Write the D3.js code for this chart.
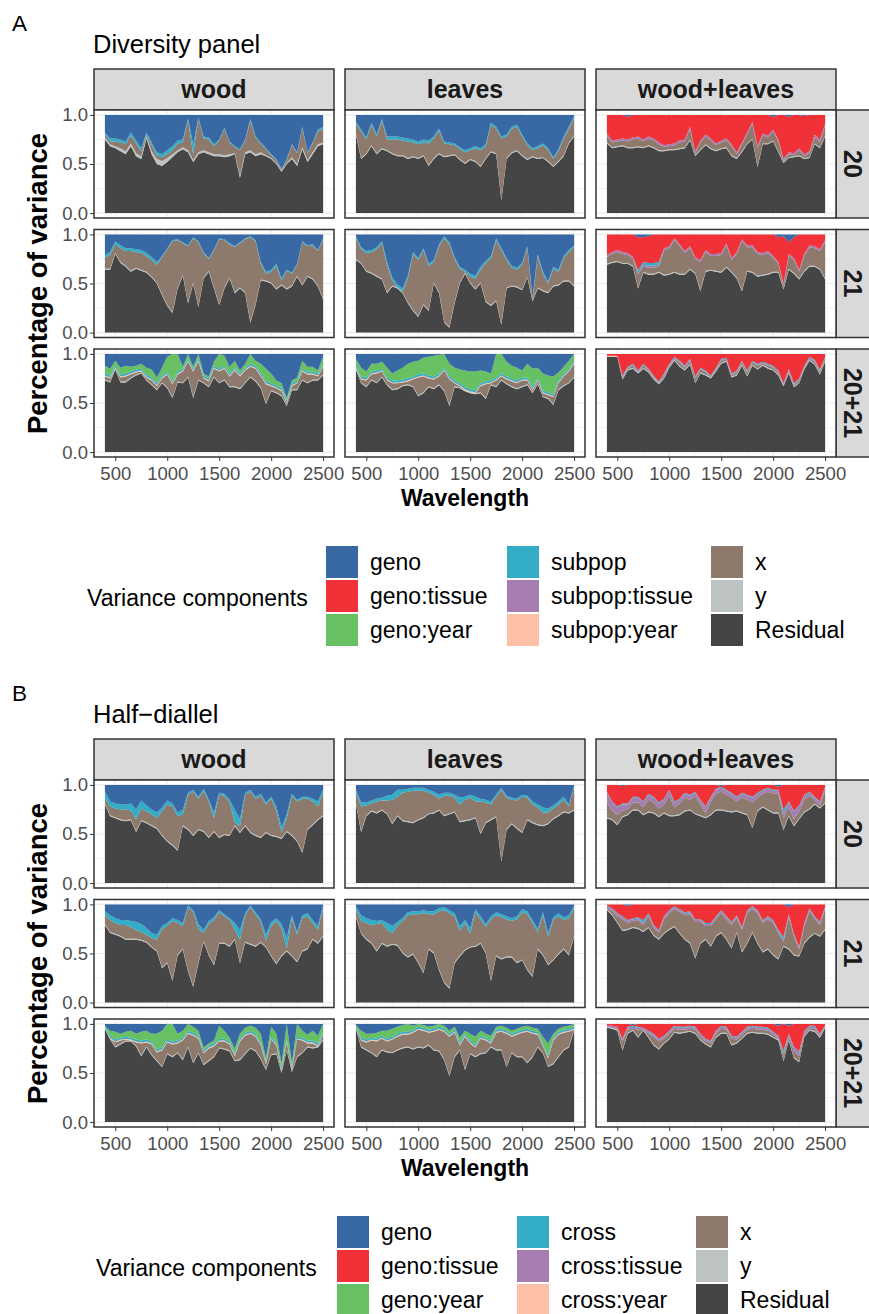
<!DOCTYPE html>
<html><head><meta charset="utf-8">
<script src="https://cdn.jsdelivr.net/npm/d3@7"></script>
<style>
body{margin:0;background:#fff}
svg{display:block}
text{font-family:"Liberation Sans",Arial,Helvetica,sans-serif}
</style>
</head><body>
<svg id="chart" width="869" height="1314"></svg>
<script>
// ---------------- DATA ----------------
const wavelength = [400,450,500,550,600,650,700,750,800,850,900,950,1000,1050,1100,1150,1200,1250,1300,1350,1400,1450,1500,1550,1600,1650,1700,1750,1800,1850,1900,1950,2000,2050,2100,2150,2200,2250,2300,2350,2400,2450,2500];
const tissues = ["wood","leaves","wood+leaves"];
const years = ["20","21","20+21"];
const xTicks = [500,1000,1500,2000,2500];
const yTicks = [0,0.5,1];
const componentKeys = ["geno","gT","gY","sp","spT","spY","x","y","Residual"];
const labelsA = ["geno","geno:tissue","geno:year","subpop","subpop:tissue","subpop:year","x","y","Residual"];
const labelsB = ["geno","geno:tissue","geno:year","cross","cross:tissue","cross:year","x","y","Residual"];

const thin01 = [0.01,0.01,0.01,0.01,0.01,0.01,0.01,0.01,0.01,0.01,0.01,0.01,0.01,0.01,0.01,0.01,0.01,0.01,0.01,0.01,0.01,0.01,0.01,0.01,0.01,0.01,0.01,0.01,0.01,0.01,0.01,0.01,0.01,0.01,0.01,0.01,0.01,0.01,0.01,0.01,0.01,0.01,0.01];
const thin02 = [0.02,0.02,0.02,0.02,0.02,0.02,0.02,0.02,0.02,0.02,0.02,0.02,0.02,0.02,0.02,0.02,0.02,0.02,0.02,0.02,0.02,0.02,0.02,0.02,0.02,0.02,0.02,0.02,0.02,0.02,0.02,0.02,0.02,0.02,0.02,0.02,0.02,0.02,0.02,0.02,0.02,0.02,0.02];

// A: Diversity panel -- wood, 20
const aWood20Res  = [0.75,0.68,0.66,0.63,0.60,0.68,0.58,0.55,0.76,0.60,0.50,0.48,0.52,0.57,0.62,0.65,0.62,0.52,0.60,0.62,0.60,0.58,0.58,0.57,0.58,0.60,0.36,0.60,0.62,0.58,0.60,0.58,0.55,0.50,0.42,0.50,0.55,0.48,0.65,0.52,0.60,0.68,0.70];
const aWood20Y    = [0.02,0.02,0.02,0.03,0.03,0.03,0.03,0.03,0.02,0.03,0.05,0.05,0.04,0.03,0.02,0.02,0.02,0.02,0.02,0.02,0.02,0.02,0.02,0.02,0.02,0.01,0.02,0.02,0.02,0.02,0.02,0.01,0.01,0.01,0.01,0.01,0.02,0.02,0.02,0.02,0.02,0.02,0.02];
const aWood20X    = [0.03,0.03,0.05,0.06,0.07,0.08,0.10,0.05,0.02,0.06,0.04,0.04,0.04,0.04,0.07,0.05,0.31,0.06,0.34,0.12,0.13,0.08,0.14,0.27,0.12,0.06,0.26,0.12,0.30,0.17,0.09,0.06,0.03,0.03,0.01,0.03,0.12,0.11,0.20,0.07,0.09,0.13,0.14];
const aWood20Sp   = [0.02,0.03,0.03,0.03,0.03,0.03,0.03,0.03,0.02,0.03,0.03,0.03,0.04,0.04,0.03,0.03,0.01,0.10,0.01,0.02,0.02,0.02,0.01,0.01,0.01,0.01,0.01,0.01,0.02,0.01,0.01,0.01,0.01,0.01,0.01,0.01,0.01,0.01,0.01,0.01,0.01,0.02,0.02];
const aWood20Geno = [0.18,0.24,0.24,0.25,0.27,0.18,0.26,0.34,0.18,0.28,0.38,0.40,0.36,0.32,0.26,0.25,0.04,0.30,0.03,0.22,0.23,0.30,0.25,0.13,0.27,0.32,0.35,0.25,0.04,0.22,0.28,0.34,0.40,0.45,0.55,0.45,0.30,0.38,0.12,0.38,0.28,0.15,0.12];

// A: leaves, 20
const aLeaf20Res  = [0.80,0.55,0.60,0.68,0.60,0.65,0.63,0.60,0.58,0.58,0.55,0.57,0.55,0.58,0.48,0.55,0.60,0.57,0.58,0.59,0.54,0.50,0.54,0.52,0.47,0.55,0.62,0.60,0.13,0.55,0.61,0.63,0.58,0.54,0.57,0.55,0.56,0.52,0.47,0.52,0.58,0.71,0.78];
const aLeaf20X    = [0.10,0.27,0.14,0.21,0.17,0.28,0.11,0.14,0.16,0.15,0.17,0.14,0.14,0.13,0.22,0.20,0.23,0.13,0.11,0.09,0.10,0.11,0.09,0.13,0.16,0.12,0.27,0.25,0.62,0.22,0.24,0.24,0.19,0.14,0.06,0.10,0.12,0.11,0.07,0.10,0.17,0.14,0.18];
const aLeaf20Sp   = [0.02,0.02,0.02,0.02,0.02,0.02,0.03,0.03,0.03,0.03,0.03,0.03,0.03,0.03,0.03,0.02,0.02,0.02,0.02,0.02,0.02,0.02,0.02,0.02,0.02,0.02,0.02,0.02,0.02,0.02,0.02,0.02,0.02,0.02,0.02,0.02,0.02,0.02,0.02,0.02,0.02,0.02,0.02];
const aLeaf20Geno = [0.07,0.15,0.23,0.08,0.20,0.04,0.22,0.22,0.22,0.23,0.24,0.25,0.27,0.25,0.26,0.22,0.14,0.27,0.28,0.29,0.33,0.36,0.34,0.32,0.34,0.30,0.08,0.12,0.22,0.20,0.12,0.10,0.20,0.29,0.34,0.32,0.29,0.34,0.43,0.35,0.22,0.12,0.01];

// A: wood+leaves, 20
const aWL20Res  = [0.71,0.66,0.67,0.68,0.66,0.66,0.67,0.66,0.68,0.66,0.63,0.63,0.64,0.64,0.65,0.66,0.74,0.58,0.64,0.69,0.65,0.63,0.65,0.66,0.58,0.55,0.62,0.70,0.75,0.47,0.70,0.70,0.73,0.62,0.51,0.56,0.57,0.58,0.55,0.56,0.70,0.66,0.78];
const aWL20X    = [0.07,0.05,0.05,0.05,0.06,0.08,0.08,0.06,0.07,0.07,0.06,0.03,0.03,0.04,0.06,0.06,0.11,0.02,0.07,0.08,0.08,0.05,0.06,0.07,0.09,0.04,0.07,0.09,0.15,0.18,0.08,0.06,0.09,0.10,0.01,0.03,0.01,0.05,0.02,0.04,0.06,0.05,0.10];
const aWL20SpT  = [0.02,0.02,0.02,0.02,0.02,0.02,0.02,0.02,0.02,0.02,0.02,0.02,0.02,0.02,0.02,0.02,0.02,0.02,0.02,0.02,0.02,0.02,0.02,0.02,0.02,0.02,0.02,0.02,0.02,0.02,0.02,0.02,0.02,0.02,0.01,0.02,0.02,0.02,0.02,0.02,0.03,0.03,0.02];
const aWL20Sp   = [0,0,0,0,0,0,0,0,0,0,0,0,0,0,0,0,0,0,0,0,0,0,0,0,0,0,0,0,0,0,0,0,0,0,0.01,0,0,0,0,0,0,0,0];
const aWL20GT   = [0.19,0.26,0.25,0.24,0.23,0.23,0.22,0.25,0.22,0.24,0.28,0.31,0.30,0.29,0.26,0.25,0.12,0.37,0.26,0.20,0.24,0.29,0.26,0.24,0.30,0.38,0.28,0.18,0.07,0.32,0.19,0.21,0.13,0.25,0.45,0.36,0.39,0.34,0.39,0.37,0.20,0.25,0.09];
const aWL20Geno = [0,0,0,0,0.02,0,0,0,0,0,0,0,0,0,0,0,0,0,0,0,0,0,0,0,0,0,0,0,0,0,0,0,0.02,0,0,0.02,0,0,0.01,0,0,0,0];

// A: wood, 21
const aWood21Res  = [0.64,0.64,0.80,0.71,0.67,0.62,0.65,0.63,0.61,0.56,0.50,0.38,0.27,0.20,0.45,0.58,0.30,0.50,0.26,0.55,0.62,0.45,0.28,0.45,0.55,0.40,0.45,0.40,0.10,0.28,0.53,0.52,0.50,0.44,0.48,0.44,0.47,0.57,0.48,0.57,0.54,0.47,0.34];
const aWood21X    = [0.11,0.14,0.09,0.14,0.15,0.20,0.16,0.17,0.16,0.17,0.18,0.38,0.57,0.72,0.48,0.32,0.57,0.45,0.65,0.25,0.12,0.38,0.66,0.48,0.34,0.46,0.45,0.54,0.86,0.64,0.16,0.07,0.11,0.23,0.04,0.18,0.12,0.11,0.43,0.30,0.34,0.35,0.60];
const aWood21Sp   = [0.03,0.03,0.03,0.03,0.03,0.03,0.03,0.03,0.03,0.03,0.03,0.01,0.01,0.01,0.01,0.01,0.01,0.01,0.01,0.01,0.01,0.01,0.01,0.01,0.01,0.01,0.01,0.01,0.01,0.01,0.02,0.02,0.02,0.02,0.02,0.01,0.01,0.01,0.01,0.01,0.01,0.01,0.01];
const aWood21Geno = [0.21,0.18,0.07,0.11,0.14,0.14,0.15,0.16,0.19,0.23,0.28,0.22,0.14,0.06,0.05,0.08,0.11,0.03,0.07,0.18,0.24,0.15,0.04,0.05,0.09,0.12,0.08,0.04,0.02,0.06,0.28,0.38,0.36,0.30,0.45,0.36,0.39,0.30,0.07,0.11,0.10,0.16,0.04];

// A: leaves, 21
const aLeaf21Res  = [0.74,0.70,0.62,0.60,0.57,0.54,0.40,0.47,0.45,0.40,0.30,0.22,0.16,0.28,0.22,0.50,0.40,0.10,0.05,0.30,0.50,0.60,0.50,0.44,0.50,0.31,0.27,0.32,0.08,0.45,0.47,0.46,0.43,0.56,0.32,0.45,0.42,0.40,0.47,0.48,0.52,0.52,0.47];
const aLeaf21X    = [0.21,0.14,0.18,0.21,0.27,0.36,0.28,0.05,0.00,0.01,0.24,0.57,0.57,0.55,0.45,0.21,0.47,0.85,0.84,0.44,0.14,0.01,0.06,0.10,0.13,0.39,0.48,0.61,0.75,0.28,0.18,0.17,0.25,0.29,0.01,0.32,0.17,0.09,0.17,0.13,0.23,0.29,0.39];
const aLeaf21Sp   = [0.02,0.02,0.02,0.02,0.02,0.02,0.03,0.03,0.03,0.03,0.03,0.02,0.02,0.02,0.02,0.02,0.02,0.02,0.02,0.02,0.02,0.02,0.03,0.03,0.03,0.02,0.02,0.02,0.02,0.02,0.02,0.02,0.02,0.02,0.02,0.02,0.02,0.02,0.02,0.02,0.02,0.02,0.02];
const aLeaf21Geno = [0.02,0.13,0.17,0.16,0.13,0.07,0.28,0.44,0.51,0.55,0.42,0.18,0.24,0.14,0.30,0.26,0.10,0.02,0.08,0.23,0.33,0.36,0.40,0.42,0.33,0.27,0.22,0.04,0.14,0.24,0.32,0.34,0.29,0.12,0.64,0.20,0.38,0.48,0.33,0.36,0.22,0.16,0.11];

// A: wood+leaves, 21
const aWL21Res  = [0.69,0.71,0.72,0.70,0.70,0.67,0.45,0.61,0.59,0.59,0.61,0.58,0.59,0.61,0.59,0.59,0.64,0.60,0.42,0.62,0.63,0.62,0.61,0.66,0.61,0.55,0.42,0.62,0.61,0.57,0.58,0.59,0.61,0.61,0.44,0.64,0.60,0.54,0.62,0.67,0.67,0.64,0.54];
const aWL21X    = [0.07,0.08,0.09,0.09,0.08,0.07,0.13,0.05,0.06,0.06,0.05,0.25,0.26,0.32,0.28,0.21,0.21,0.14,0.29,0.19,0.14,0.15,0.17,0.22,0.12,0.24,0.50,0.24,0.25,0.22,0.20,0.21,0.14,0.08,0.03,0.13,0.13,0.07,0.15,0.19,0.18,0.18,0.37];
const aWL21Sp   = [0,0,0,0,0,0,0.03,0.03,0.03,0.03,0.03,0,0,0,0,0,0,0,0,0,0,0,0,0,0,0,0,0,0,0,0,0,0,0,0,0,0,0,0,0,0,0,0];
const aWL21GT   = [0.21,0.18,0.16,0.18,0.19,0.23,0.33,0.25,0.27,0.29,0.28,0.14,0.12,0.04,0.10,0.17,0.12,0.23,0.26,0.16,0.20,0.20,0.19,0.09,0.24,0.18,0.05,0.11,0.11,0.18,0.19,0.17,0.22,0.25,0.48,0.12,0.21,0.36,0.20,0.11,0.12,0.15,0.06];
const aWL21Geno = [0,0,0,0,0,0,0.03,0.03,0.02,0,0,0,0,0,0,0,0,0,0,0,0,0,0,0,0,0,0,0,0,0,0,0,0,0.03,0.02,0.08,0.03,0,0,0,0,0,0];

// A: wood, 20+21
const aWood2021Res  = [0.73,0.71,0.84,0.71,0.71,0.75,0.78,0.80,0.73,0.68,0.63,0.70,0.65,0.55,0.71,0.70,0.76,0.55,0.73,0.70,0.66,0.76,0.70,0.73,0.66,0.66,0.64,0.70,0.76,0.72,0.65,0.49,0.62,0.60,0.57,0.47,0.63,0.63,0.73,0.70,0.73,0.73,0.78];
const aWood2021X    = [0.03,0.03,0.00,0.04,0.05,0.03,0.02,0.01,0.02,0.04,0.03,0.04,0.13,0.13,0.07,0.11,0.15,0.26,0.18,0.04,0.05,0.08,0.11,0.11,0.10,0.16,0.12,0.12,0.10,0.12,0.11,0.19,0.04,0.04,0.04,0.02,0.03,0.06,0.08,0.08,0.05,0.03,0.08];
const aWood2021GY   = [0.08,0.07,0.05,0.07,0.08,0.05,0.04,0.05,0.07,0.08,0.06,0.08,0.15,0.28,0.18,0.02,0.05,0.02,0.05,0.02,0.02,0.04,0.15,0.10,0.07,0.07,0.03,0.04,0.10,0.05,0.10,0.13,0.10,0.05,0.05,0.02,0.03,0.03,0.08,0.05,0.05,0.03,0.07];
const aWood2021Geno = [0.12,0.15,0.07,0.14,0.12,0.13,0.12,0.10,0.14,0.16,0.24,0.14,0.03,0.00,0.00,0.13,0.00,0.13,0.00,0.20,0.23,0.08,0.00,0.02,0.13,0.07,0.17,0.10,0.00,0.07,0.10,0.15,0.20,0.27,0.30,0.45,0.27,0.24,0.07,0.13,0.13,0.17,0.03];

// A: leaves, 20+21
const aLeaf2021Res  = [0.84,0.70,0.66,0.73,0.70,0.76,0.68,0.63,0.64,0.67,0.68,0.66,0.57,0.60,0.66,0.64,0.68,0.62,0.47,0.66,0.65,0.62,0.60,0.59,0.60,0.54,0.68,0.66,0.73,0.69,0.66,0.64,0.66,0.68,0.60,0.69,0.56,0.54,0.48,0.63,0.67,0.70,0.76];
const aLeaf2021X    = [0.00,0.03,0.06,0.05,0.09,0.05,0.04,0.06,0.05,0.03,0.03,0.07,0.18,0.16,0.08,0.09,0.08,0.20,0.26,0.03,0.01,0.00,0.00,0.00,0.06,0.14,0.01,0.06,0.03,0.04,0.05,0.05,0.06,0.04,0.02,0.03,0.03,0.03,0.07,0.06,0.09,0.11,0.13];
const aLeaf2021GY   = [0.07,0.09,0.06,0.08,0.07,0.07,0.10,0.07,0.10,0.12,0.15,0.15,0.14,0.16,0.19,0.21,0.19,0.14,0.13,0.13,0.14,0.17,0.18,0.19,0.13,0.10,0.07,0.24,0.20,0.15,0.13,0.13,0.07,0.14,0.19,0.10,0.17,0.17,0.18,0.08,0.07,0.08,0.07];
const aLeaf2021Geno = [0.05,0.14,0.18,0.10,0.10,0.08,0.14,0.20,0.17,0.14,0.10,0.08,0.07,0.04,0.03,0.02,0.01,0.00,0.10,0.14,0.16,0.17,0.18,0.18,0.17,0.18,0.20,0.00,0.00,0.08,0.12,0.14,0.17,0.10,0.15,0.14,0.20,0.22,0.23,0.19,0.13,0.07,0.00];

// A: wood+leaves, 20+21
const aWL2021Res  = [0.97,0.97,0.97,0.74,0.83,0.85,0.80,0.85,0.81,0.74,0.69,0.75,0.86,0.93,0.87,0.83,0.89,0.70,0.80,0.78,0.75,0.82,0.90,0.92,0.76,0.78,0.88,0.77,0.88,0.84,0.88,0.85,0.83,0.78,0.67,0.80,0.66,0.70,0.84,0.93,0.89,0.79,0.92];
const aWL2021Y    = [0,0,0,0.01,0.01,0.01,0.01,0.01,0.01,0.01,0.01,0.01,0.01,0.01,0.01,0.01,0.01,0.01,0.01,0.01,0.01,0.01,0.01,0.01,0.01,0.01,0.01,0.01,0.01,0.01,0.01,0.01,0.01,0.01,0.01,0.01,0.01,0.01,0.01,0.01,0.01,0.01,0.01];
const aWL2021X    = [0.00,0.00,0.00,0.01,0.01,0.02,0.00,0.02,0.01,0.01,0.00,0.02,0.01,0.01,0.03,0.02,0.03,0.04,0.03,0.02,0.00,0.01,0.02,0.01,0.01,0.02,0.02,0.03,0.02,0.03,0.01,0.02,0.02,0.02,0.00,0.02,0.01,0.02,0.01,0.01,0.02,0.02,0.02];
const aWL2021SpY  = [0.01,0.01,0.01,0,0,0,0,0,0,0,0,0,0,0,0,0,0,0,0,0,0,0,0,0,0,0,0,0,0,0,0,0,0,0,0,0,0,0,0,0,0,0,0];
const aWL2021SpT  = aWL2021Y;
const aWL2021Sp   = aWL2021Y;
const aWL2021GT   = [0.02,0.02,0.02,0.22,0.13,0.10,0.17,0.10,0.15,0.22,0.28,0.20,0.10,0.03,0.07,0.12,0.05,0.23,0.14,0.17,0.22,0.14,0.05,0.04,0.20,0.17,0.07,0.17,0.07,0.10,0.08,0.10,0.12,0.17,0.30,0.15,0.30,0.25,0.12,0.03,0.06,0.16,0.03];

// B: Half-diallel -- wood, 20
const bWood20Res  = [0.80,0.68,0.66,0.64,0.63,0.64,0.52,0.63,0.61,0.58,0.55,0.48,0.42,0.38,0.33,0.58,0.54,0.48,0.54,0.52,0.46,0.52,0.46,0.49,0.48,0.58,0.51,0.58,0.51,0.48,0.46,0.51,0.48,0.47,0.45,0.52,0.48,0.42,0.31,0.54,0.59,0.64,0.68];
const bWood20X    = [0.05,0.09,0.09,0.10,0.11,0.09,0.12,0.12,0.11,0.11,0.10,0.24,0.37,0.39,0.34,0.11,0.35,0.44,0.31,0.41,0.36,0.13,0.43,0.39,0.33,0.03,0.06,0.31,0.41,0.37,0.42,0.28,0.37,0.26,0.06,0.13,0.40,0.40,0.54,0.31,0.23,0.13,0.23];
const bWood20Cr   = [0.07,0.05,0.05,0.05,0.05,0.07,0.10,0.08,0.06,0.05,0.06,0.04,0.04,0.03,0.04,0.05,0.02,0.02,0.02,0.02,0.02,0.06,0.02,0.02,0.03,0.13,0.07,0.02,0.02,0.02,0.02,0.02,0.02,0.04,0.05,0.04,0.02,0.02,0.02,0.02,0.03,0.05,0.03];
const bWood20Geno = [0.07,0.17,0.19,0.20,0.20,0.19,0.25,0.16,0.21,0.25,0.28,0.23,0.16,0.19,0.28,0.25,0.08,0.05,0.12,0.04,0.15,0.28,0.08,0.09,0.15,0.25,0.35,0.08,0.05,0.12,0.09,0.18,0.12,0.22,0.43,0.30,0.09,0.15,0.12,0.12,0.14,0.17,0.05];

// B: leaves, 20
const bLeaf20Res  = [0.81,0.52,0.68,0.73,0.71,0.74,0.70,0.60,0.68,0.63,0.62,0.61,0.64,0.66,0.70,0.71,0.74,0.68,0.70,0.72,0.62,0.63,0.64,0.66,0.50,0.61,0.64,0.67,0.22,0.54,0.60,0.55,0.51,0.64,0.61,0.59,0.58,0.60,0.65,0.68,0.72,0.71,0.74];
const bLeaf20X    = [0.10,0.25,0.10,0.07,0.11,0.09,0.13,0.24,0.19,0.28,0.30,0.32,0.29,0.27,0.21,0.18,0.11,0.20,0.18,0.14,0.17,0.21,0.22,0.16,0.32,0.20,0.15,0.20,0.72,0.32,0.24,0.28,0.36,0.22,0.18,0.17,0.13,0.11,0.10,0.11,0.12,0.06,0.23];
const bLeaf20Cr   = [0.03,0.04,0.03,0.03,0.03,0.03,0.05,0.05,0.07,0.03,0.03,0.03,0.03,0.03,0.03,0.03,0.04,0.03,0.03,0.03,0.07,0.03,0.03,0.05,0.03,0.03,0.03,0.02,0.02,0.02,0.02,0.02,0.02,0.02,0.03,0.03,0.05,0.04,0.03,0.03,0.03,0.02,0.02];
const bLeaf20Geno = [0.05,0.18,0.18,0.16,0.14,0.13,0.11,0.10,0.05,0.05,0.04,0.03,0.03,0.03,0.05,0.07,0.10,0.08,0.08,0.10,0.13,0.12,0.10,0.12,0.14,0.15,0.17,0.10,0.03,0.11,0.13,0.14,0.10,0.11,0.17,0.20,0.23,0.24,0.21,0.17,0.12,0.20,0.00];

// B: wood+leaves, 20
const bWL20Res  = [0.66,0.64,0.59,0.67,0.69,0.74,0.74,0.69,0.72,0.71,0.67,0.71,0.68,0.68,0.69,0.73,0.74,0.70,0.68,0.66,0.69,0.74,0.74,0.73,0.72,0.73,0.71,0.69,0.56,0.73,0.77,0.74,0.71,0.71,0.54,0.68,0.58,0.65,0.72,0.75,0.80,0.76,0.81];
const bWL20X    = [0.15,0.09,0.09,0.06,0.05,0.07,0.07,0.07,0.12,0.10,0.08,0.08,0.20,0.08,0.11,0.13,0.10,0.17,0.11,0.04,0.13,0.16,0.18,0.16,0.14,0.09,0.15,0.15,0.25,0.13,0.13,0.18,0.19,0.19,0.11,0.08,0.06,0.07,0.12,0.13,0.03,0.02,0.12];
const bWL20CT   = [0.10,0.08,0.08,0.06,0.05,0.05,0.05,0.05,0.05,0.05,0.05,0.05,0.05,0.05,0.04,0.04,0.04,0.04,0.04,0.06,0.04,0.04,0.04,0.04,0.04,0.04,0.04,0.04,0.05,0.04,0.03,0.03,0.03,0.03,0.05,0.05,0.08,0.05,0.04,0.03,0.03,0.03,0.03];
const bWL20Cr   = [0.01,0.01,0.01,0.01,0.01,0.01,0.01,0.01,0.01,0.01,0.01,0.01,0.01,0.01,0.01,0.01,0.01,0.01,0.01,0.01,0.01,0.01,0.01,0.01,0.01,0.01,0.01,0.01,0.01,0.01,0.01,0.01,0.01,0.01,0.04,0.01,0.01,0.01,0.01,0.01,0.01,0.01,0.01];
const bWL20GT   = [0.07,0.17,0.22,0.18,0.19,0.12,0.12,0.17,0.09,0.12,0.18,0.14,0.05,0.17,0.14,0.08,0.10,0.07,0.15,0.22,0.12,0.04,0.01,0.05,0.08,0.12,0.08,0.10,0.12,0.08,0.05,0.03,0.05,0.03,0.25,0.17,0.26,0.21,0.10,0.07,0.12,0.17,0.02];
const bWL20Geno = [0,0,0,0.01,0,0,0,0,0,0,0,0,0,0,0,0,0,0,0,0,0,0,0.01,0,0,0,0,0,0,0,0,0,0,0.02,0,0,0,0,0,0,0,0,0];

// B: wood, 21
const bWood21Res  = [0.79,0.71,0.69,0.67,0.64,0.64,0.64,0.63,0.61,0.56,0.52,0.35,0.40,0.22,0.48,0.54,0.32,0.16,0.40,0.62,0.48,0.38,0.60,0.60,0.57,0.64,0.40,0.61,0.59,0.57,0.61,0.56,0.47,0.39,0.47,0.52,0.47,0.41,0.52,0.54,0.64,0.60,0.67];
const bWood21X    = [0.09,0.12,0.11,0.11,0.14,0.12,0.09,0.08,0.07,0.09,0.11,0.39,0.37,0.60,0.32,0.23,0.64,0.75,0.34,0.08,0.31,0.45,0.31,0.27,0.26,0.09,0.23,0.27,0.37,0.32,0.20,0.06,0.30,0.43,0.28,0.02,0.38,0.27,0.33,0.33,0.16,0.13,0.28];
const bWood21Cr   = [0.04,0.05,0.05,0.05,0.05,0.06,0.08,0.08,0.07,0.05,0.05,0.03,0.03,0.03,0.03,0.03,0.02,0.02,0.05,0.03,0.03,0.03,0.02,0.02,0.02,0.07,0.10,0.02,0.02,0.02,0.03,0.06,0.04,0.03,0.04,0.11,0.03,0.03,0.03,0.03,0.03,0.04,0.03];
const bWood21Geno = [0.07,0.11,0.14,0.16,0.16,0.17,0.18,0.20,0.24,0.29,0.31,0.22,0.19,0.14,0.16,0.19,0.01,0.06,0.20,0.26,0.17,0.13,0.06,0.10,0.14,0.19,0.26,0.09,0.01,0.08,0.15,0.31,0.18,0.14,0.20,0.34,0.11,0.28,0.11,0.09,0.16,0.22,0.01];

// B: leaves, 21
const bLeaf21Res  = [0.87,0.70,0.64,0.60,0.52,0.60,0.57,0.59,0.58,0.50,0.46,0.49,0.40,0.30,0.54,0.50,0.33,0.20,0.14,0.40,0.47,0.53,0.56,0.57,0.60,0.50,0.22,0.47,0.44,0.46,0.46,0.40,0.43,0.33,0.26,0.54,0.48,0.38,0.43,0.49,0.54,0.48,0.67];
const bLeaf21X    = [0.07,0.12,0.16,0.18,0.27,0.20,0.16,0.11,0.19,0.32,0.42,0.40,0.49,0.60,0.35,0.39,0.59,0.73,0.76,0.47,0.25,0.27,0.13,0.34,0.24,0.26,0.62,0.41,0.42,0.38,0.36,0.44,0.48,0.56,0.54,0.17,0.40,0.28,0.40,0.38,0.29,0.37,0.28];
const bLeaf21Cr   = [0.03,0.06,0.05,0.05,0.03,0.03,0.07,0.07,0.04,0.03,0.03,0.03,0.03,0.03,0.03,0.03,0.03,0.03,0.03,0.03,0.05,0.03,0.06,0.03,0.03,0.03,0.03,0.03,0.03,0.03,0.03,0.03,0.03,0.03,0.03,0.03,0.03,0.04,0.03,0.03,0.03,0.03,0.03];
const bLeaf21Geno = [0.02,0.11,0.14,0.16,0.17,0.16,0.19,0.22,0.18,0.14,0.08,0.07,0.07,0.06,0.07,0.07,0.04,0.03,0.06,0.09,0.22,0.16,0.24,0.05,0.12,0.20,0.12,0.08,0.10,0.12,0.14,0.12,0.05,0.07,0.16,0.25,0.08,0.29,0.13,0.09,0.13,0.11,0.01];

// B: wood+leaves, 21
const bWL21Res  = [0.94,0.89,0.81,0.73,0.74,0.76,0.75,0.72,0.76,0.68,0.64,0.70,0.74,0.77,0.70,0.64,0.60,0.45,0.60,0.64,0.57,0.67,0.71,0.64,0.55,0.71,0.51,0.60,0.71,0.60,0.51,0.54,0.48,0.44,0.57,0.54,0.48,0.47,0.60,0.66,0.70,0.67,0.74];
const bWL21X    = [0.01,0.03,0.06,0.11,0.06,0.06,0.08,0.06,0.11,0.07,0.06,0.14,0.16,0.17,0.21,0.24,0.29,0.36,0.21,0.13,0.20,0.17,0.19,0.20,0.23,0.14,0.22,0.30,0.23,0.30,0.29,0.30,0.32,0.26,0.04,0.32,0.18,0.06,0.17,0.26,0.14,0.11,0.20];
const bWL21Cr   = [0.01,0.01,0.01,0.01,0.01,0.01,0.01,0.03,0.01,0.01,0.01,0.01,0.01,0.01,0.01,0.01,0.01,0.01,0.01,0.01,0.01,0.01,0.01,0.01,0.01,0.01,0.01,0.01,0.01,0.01,0.01,0.01,0.01,0.01,0.03,0.01,0.01,0.01,0.01,0.01,0.01,0.01,0.01];
const bWL21GT   = [0.01,0.04,0.09,0.12,0.14,0.14,0.13,0.16,0.09,0.21,0.26,0.12,0.06,0.02,0.05,0.08,0.07,0.15,0.15,0.19,0.19,0.12,0.06,0.12,0.18,0.11,0.23,0.06,0.02,0.06,0.16,0.12,0.16,0.26,0.33,0.07,0.30,0.43,0.19,0.04,0.12,0.18,0.02];
const bWL21Geno = [0,0,0,0,0.02,0,0,0,0,0,0,0,0,0,0,0,0,0,0,0,0,0,0,0,0,0,0,0,0,0,0,0,0,0,0,0.03,0,0,0,0,0,0,0];

// B: wood, 20+21
const bWood2021Res  = [0.95,0.84,0.76,0.79,0.82,0.82,0.77,0.67,0.76,0.68,0.62,0.56,0.69,0.66,0.70,0.63,0.76,0.60,0.70,0.58,0.62,0.66,0.75,0.74,0.72,0.62,0.63,0.69,0.75,0.72,0.64,0.53,0.68,0.69,0.50,0.73,0.51,0.66,0.70,0.76,0.75,0.76,0.83];
const bWood2021X    = [0.00,0.00,0.04,0.03,0.01,0.00,0.03,0.12,0.04,0.10,0.08,0.16,0.11,0.12,0.09,0.19,0.13,0.27,0.14,0.11,0.12,0.10,0.06,0.07,0.06,0.04,0.18,0.18,0.14,0.14,0.13,0.05,0.15,0.08,0.01,0.07,0.01,0.17,0.12,0.03,0.04,0.00,0.05];
const bWood2021CY   = [0,0.01,0.01,0.01,0.01,0.01,0.01,0.01,0.01,0.01,0.01,0.01,0.01,0.01,0.01,0.01,0.01,0.01,0.01,0.01,0.01,0.01,0.01,0.01,0.01,0.01,0.01,0.01,0.01,0.01,0.01,0.01,0.01,0.01,0.01,0.01,0.01,0.01,0.01,0.01,0.01,0.01,0.01];
const bWood2021Cr   = [0.01,0.02,0.02,0.02,0.02,0.02,0.02,0.02,0.02,0.02,0.02,0.02,0.02,0.02,0.02,0.02,0.02,0.02,0.02,0.02,0.02,0.02,0.02,0.02,0.02,0.02,0.02,0.02,0.02,0.02,0.02,0.02,0.02,0.02,0.02,0.02,0.02,0.02,0.02,0.02,0.02,0.02,0.02];
const bWood2021GY   = [0.01,0.05,0.08,0.04,0.05,0.07,0.06,0.09,0.09,0.08,0.16,0.17,0.16,0.18,0.07,0.07,0.07,0.06,0.05,0.03,0.02,0.03,0.13,0.08,0.04,0.05,0.05,0.05,0.05,0.06,0.09,0.03,0.10,0.09,0.05,0.16,0.04,0.13,0.07,0.06,0.10,0.08,0.08];
const bWood2021Geno = [0.02,0.07,0.08,0.10,0.08,0.07,0.10,0.08,0.07,0.10,0.10,0.07,0.00,0.00,0.10,0.07,0.00,0.03,0.07,0.24,0.20,0.17,0.02,0.07,0.14,0.25,0.10,0.04,0.02,0.04,0.10,0.35,0.03,0.10,0.40,0.00,0.40,0.00,0.07,0.11,0.07,0.12,0.00];

// B: leaves, 20+21
const bLeaf2021Res  = [0.95,0.76,0.73,0.70,0.66,0.73,0.71,0.70,0.73,0.75,0.76,0.74,0.76,0.75,0.78,0.73,0.72,0.63,0.47,0.66,0.73,0.53,0.69,0.66,0.69,0.70,0.76,0.73,0.73,0.56,0.70,0.66,0.66,0.60,0.66,0.76,0.70,0.56,0.59,0.66,0.73,0.76,0.93];
const bLeaf2021X    = [0.00,0.06,0.07,0.12,0.15,0.11,0.10,0.13,0.13,0.13,0.12,0.16,0.17,0.17,0.12,0.18,0.21,0.28,0.39,0.24,0.04,0.33,0.10,0.09,0.15,0.12,0.03,0.17,0.18,0.33,0.16,0.22,0.24,0.31,0.23,0.12,0.06,0.08,0.23,0.22,0.17,0.15,0.00];
const bLeaf2021GY   = [0.02,0.07,0.06,0.04,0.06,0.05,0.08,0.08,0.07,0.07,0.08,0.04,0.03,0.03,0.03,0.03,0.03,0.03,0.03,0.03,0.05,0.03,0.07,0.08,0.05,0.04,0.05,0.03,0.03,0.03,0.03,0.03,0.03,0.03,0.03,0.03,0.07,0.12,0.04,0.03,0.03,0.03,0.03];
const bLeaf2021Geno = [0.01,0.07,0.10,0.10,0.09,0.07,0.07,0.05,0.03,0.01,0.00,0.02,0.00,0.01,0.03,0.02,0.00,0.02,0.07,0.03,0.14,0.07,0.10,0.13,0.07,0.10,0.12,0.03,0.02,0.04,0.07,0.05,0.03,0.02,0.04,0.05,0.13,0.20,0.10,0.05,0.03,0.02,0.00];

// B: wood+leaves, 20+21
const bWL2021Res  = [0.96,0.95,0.93,0.73,0.90,0.93,0.86,0.93,0.86,0.78,0.74,0.80,0.84,0.91,0.90,0.91,0.92,0.90,0.83,0.79,0.76,0.86,0.90,0.90,0.78,0.80,0.85,0.90,0.91,0.90,0.90,0.89,0.86,0.83,0.62,0.83,0.65,0.61,0.87,0.93,0.92,0.86,0.96];
const bWL2021X    = [0.00,0.00,0.01,0.08,0.03,0.01,0.07,0.00,0.03,0.08,0.07,0.04,0.05,0.03,0.03,0.02,0.02,0.03,0.03,0.02,0.03,0.03,0.04,0.03,0.06,0.03,0.03,0.03,0.03,0.03,0.03,0.03,0.02,0.01,0.05,0.03,0.06,0.05,0.02,0.01,0.02,0.00,0.00];
const bWL2021CT   = [0.02,0.02,0.02,0.02,0.02,0.02,0.02,0.02,0.02,0.02,0.02,0.02,0.02,0.02,0.02,0.02,0.02,0.02,0.02,0.02,0.02,0.02,0.02,0.02,0.02,0.02,0.02,0.02,0.02,0.02,0.02,0.02,0.02,0.02,0.02,0.02,0.04,0.04,0.02,0.02,0.02,0.02,0.02];
const bWL2021Cr   = [0,0,0,0.01,0.01,0.01,0.01,0,0.01,0.01,0.01,0.01,0.01,0.01,0.01,0.01,0.01,0.01,0.01,0.01,0.01,0.01,0.01,0.01,0.01,0.01,0.01,0.01,0.01,0.01,0.01,0.01,0.01,0.01,0.03,0.01,0.01,0.01,0.01,0.01,0.01,0.01,0];
const bWL2021GT   = [0.01,0.02,0.03,0.15,0.03,0.01,0.03,0.04,0.07,0.10,0.15,0.12,0.07,0.02,0.03,0.03,0.02,0.03,0.10,0.15,0.17,0.07,0.02,0.03,0.12,0.13,0.08,0.03,0.02,0.03,0.03,0.04,0.08,0.10,0.27,0.08,0.23,0.28,0.07,0.02,0.02,0.10,0.01];
const bWL2021Geno = [0,0,0,0,0,0.01,0,0,0,0,0,0,0,0,0,0,0,0,0,0,0,0,0,0,0,0,0,0,0,0,0,0,0,0.02,0,0.02,0,0,0,0,0,0,0];

// ---------------- PANEL TABLE (built from the arrays) ----------------
const panelsA = [
  {col:0,row:0,s:{Residual:aWood20Res,y:aWood20Y,x:aWood20X,sp:aWood20Sp,geno:aWood20Geno}},
  {col:1,row:0,s:{Residual:aLeaf20Res,y:thin01,x:aLeaf20X,sp:aLeaf20Sp,geno:aLeaf20Geno}},
  {col:2,row:0,s:{Residual:aWL20Res,y:thin01,x:aWL20X,spT:aWL20SpT,sp:aWL20Sp,gT:aWL20GT,geno:aWL20Geno}},
  {col:0,row:1,s:{Residual:aWood21Res,y:thin01,x:aWood21X,sp:aWood21Sp,geno:aWood21Geno}},
  {col:1,row:1,s:{Residual:aLeaf21Res,y:thin01,x:aLeaf21X,sp:aLeaf21Sp,geno:aLeaf21Geno}},
  {col:2,row:1,s:{Residual:aWL21Res,y:thin01,x:aWL21X,spT:thin02,sp:aWL21Sp,gT:aWL21GT,geno:aWL21Geno}},
  {col:0,row:2,s:{Residual:aWood2021Res,y:thin01,x:aWood2021X,spY:thin01,sp:thin02,gY:aWood2021GY,geno:aWood2021Geno}},
  {col:1,row:2,s:{Residual:aLeaf2021Res,y:thin01,x:aLeaf2021X,spY:thin01,sp:thin02,gY:aLeaf2021GY,geno:aLeaf2021Geno}},
  {col:2,row:2,s:{Residual:aWL2021Res,y:aWL2021Y,x:aWL2021X,spY:aWL2021SpY,spT:aWL2021SpT,sp:aWL2021Sp,gT:aWL2021GT}}
];
const panelsB = [
  {col:0,row:0,s:{Residual:bWood20Res,y:thin01,x:bWood20X,sp:bWood20Cr,geno:bWood20Geno}},
  {col:1,row:0,s:{Residual:bLeaf20Res,y:thin01,x:bLeaf20X,sp:bLeaf20Cr,geno:bLeaf20Geno}},
  {col:2,row:0,s:{Residual:bWL20Res,y:thin01,x:bWL20X,spT:bWL20CT,sp:bWL20Cr,gT:bWL20GT,geno:bWL20Geno}},
  {col:0,row:1,s:{Residual:bWood21Res,y:thin01,x:bWood21X,sp:bWood21Cr,geno:bWood21Geno}},
  {col:1,row:1,s:{Residual:bLeaf21Res,y:thin01,x:bLeaf21X,sp:bLeaf21Cr,geno:bLeaf21Geno}},
  {col:2,row:1,s:{Residual:bWL21Res,y:thin01,x:bWL21X,spT:thin02,sp:bWL21Cr,gT:bWL21GT,geno:bWL21Geno}},
  {col:0,row:2,s:{Residual:bWood2021Res,y:thin01,x:bWood2021X,spY:bWood2021CY,sp:bWood2021Cr,gY:bWood2021GY,geno:bWood2021Geno}},
  {col:1,row:2,s:{Residual:bLeaf2021Res,y:thin01,x:bLeaf2021X,spY:bWood2021CY,sp:bWood2021Cr,gY:bLeaf2021GY,geno:bLeaf2021Geno}},
  {col:2,row:2,s:{Residual:bWL2021Res,y:thin01,x:bWL2021X,spT:bWL2021CT,sp:bWL2021Cr,gT:bWL2021GT,geno:bWL2021Geno}}
];

// ---------------- STYLE / LAYOUT ----------------
const colors = {geno:"#23599A",gT:"#EE1B21",gY:"#56BA52",sp:"#1DA3C0",spT:"#9C6FA7",spY:"#FDB89C",x:"#816C5C",y:"#B5BDBB",Residual:"#313131"};
const fillOpacity = 0.9;
const colX = [94,345,596], panelW = 240;
const rowY = [110,229.5,349], panelH = 108;
const stripTop = 69;
const stackOrder = ["Residual","y","x","spY","spT","sp","gY","gT","geno"];
const FONT = '"Liberation Sans",Arial,Helvetica,sans-serif';

const svg = d3.select("#chart");

function drawFigure(oy, letter, title, panels, labels, legendCfg){
  const g = svg.append("g").attr("transform",`translate(0,${oy})`);
  g.append("text").attr("x",12).attr("y",31).attr("font-size",22.5).attr("fill","#000").text(letter);
  g.append("text").attr("x",93).attr("y",53).attr("font-size",25.5).attr("fill","#000").text(title);

  tissues.forEach((t,i)=>{
    g.append("rect").attr("x",colX[i]).attr("y",stripTop).attr("width",panelW).attr("height",rowY[0]-stripTop)
      .attr("fill","#D9D9D9").attr("stroke","#333333").attr("stroke-width",1.5);
    g.append("text").attr("x",colX[i]+panelW/2).attr("y",98).attr("text-anchor","middle")
      .attr("font-size",25).attr("font-weight","bold").attr("fill","#1A1A1A").text(t);
  });
  years.forEach((yv,j)=>{
    g.append("rect").attr("x",colX[2]+panelW).attr("y",rowY[j]).attr("width",40).attr("height",panelH)
      .attr("fill","#D9D9D9").attr("stroke","#333333").attr("stroke-width",1.5);
    const cx = colX[2]+panelW+16.5, cy = rowY[j]+panelH/2;
    g.append("text").attr("transform",`translate(${cx},${cy}) rotate(90)`).attr("text-anchor","middle")
      .attr("dominant-baseline","central").attr("font-size",25).attr("font-weight","bold").attr("fill","#1A1A1A").text(yv);
  });

  panels.forEach(p=>{
    const px = colX[p.col], py = rowY[p.row];
    const xs = d3.scaleLinear().domain([295,2605]).range([px,px+panelW]);
    const ys = d3.scaleLinear().domain([-0.05,1.05]).range([py+panelH,py]);
    const pg = g.append("g");
    pg.append("rect").attr("x",px).attr("y",py).attr("width",panelW).attr("height",panelH).attr("fill","#fff");
    [750,1250,1750,2250].forEach(v=>pg.append("line").attr("x1",xs(v)).attr("x2",xs(v)).attr("y1",py).attr("y2",py+panelH).attr("stroke","#EBEBEB").attr("stroke-width",0.6));
    [0.25,0.75].forEach(v=>pg.append("line").attr("y1",ys(v)).attr("y2",ys(v)).attr("x1",px).attr("x2",px+panelW).attr("stroke","#EBEBEB").attr("stroke-width",0.6));
    xTicks.forEach(v=>pg.append("line").attr("x1",xs(v)).attr("x2",xs(v)).attr("y1",py).attr("y2",py+panelH).attr("stroke","#EBEBEB").attr("stroke-width",1.2));
    yTicks.forEach(v=>pg.append("line").attr("y1",ys(v)).attr("y2",ys(v)).attr("x1",px).attr("x2",px+panelW).attr("stroke","#EBEBEB").attr("stroke-width",1.2));

    const rows = wavelength.map((w,i)=>{
      const r = {w};
      stackOrder.forEach(k=>{ r[k] = p.s[k] ? p.s[k][i] : 0; });
      return r;
    });
    const series = d3.stack().keys(stackOrder)(rows);
    const area = d3.area().x(d=>xs(d.data.w)).y0(d=>ys(d[0])).y1(d=>ys(d[1]));
    pg.selectAll("path.a").data(series).join("path").attr("class","a")
      .attr("d",area).attr("fill",d=>colors[d.key]).attr("fill-opacity",fillOpacity).attr("stroke","none");

    pg.append("rect").attr("x",px).attr("y",py).attr("width",panelW).attr("height",panelH)
      .attr("fill","none").attr("stroke","#333333").attr("stroke-width",1.5);

    if(p.col===0){
      const ax = d3.axisLeft(ys).tickValues(yTicks).tickFormat(d3.format(".1f")).tickSize(4).tickPadding(2);
      const ag = pg.append("g").attr("transform",`translate(${px},0)`).call(ax);
      ag.select(".domain").remove();
      ag.selectAll("line").attr("stroke","#333333").attr("stroke-width",1);
      ag.selectAll("text").attr("font-size",18.5).attr("fill","#4D4D4D").attr("font-family",FONT);
    }
    if(p.row===2){
      const ax = d3.axisBottom(xs).tickValues(xTicks).tickFormat(d3.format("d")).tickSize(4).tickPadding(6);
      const ag = pg.append("g").attr("transform",`translate(0,${py+panelH})`).call(ax);
      ag.select(".domain").remove();
      ag.selectAll("line").attr("stroke","#333333").attr("stroke-width",1);
      ag.selectAll("text").attr("font-size",18.5).attr("fill","#4D4D4D").attr("font-family",FONT);
    }
  });

  g.append("text").attr("x",465).attr("y",506).attr("text-anchor","middle").attr("font-size",23)
    .attr("font-weight","bold").attr("fill","#000").text("Wavelength");
  g.append("text").attr("transform",`translate(47,${(rowY[0]+rowY[2]+panelH)/2}) rotate(-90)`).attr("text-anchor","middle")
    .attr("font-size",27.5).attr("font-weight","bold").attr("fill","#000").text("Percentage of variance");

  const lg = g.append("g");
  lg.append("text").attr("x",legendCfg.titleX).attr("y",606).attr("font-size",23).attr("fill","#000").text("Variance components");
  const keyRows = [546,580,614];
  componentKeys.forEach((k,i)=>{
    const c = Math.floor(i/3), r = i%3;
    const kx = legendCfg.keyX[c], ky = keyRows[r];
    lg.append("rect").attr("x",kx).attr("y",ky).attr("width",32).attr("height",32)
      .attr("fill",colors[k]).attr("fill-opacity",fillOpacity);
    lg.append("text").attr("x",kx+44).attr("y",ky+24).attr("font-size",23).attr("fill","#000").text(labels[i]);
  });
}

drawFigure(0,"A","Diversity panel",panelsA,labelsA,{titleX:87,keyX:[326,507,711]});
drawFigure(670,"B","Half\u2212diallel",panelsB,labelsB,{titleX:96,keyX:[337,517,696]});
</script>
</body></html>
